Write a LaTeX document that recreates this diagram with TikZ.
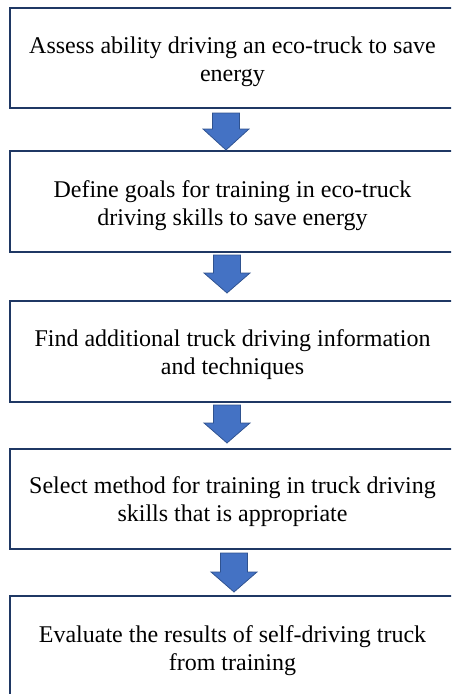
\documentclass[tikz,border=0pt]{standalone}
\usepackage{fontspec}
\setmainfont{Liberation Serif}
\definecolor{boxline}{HTML}{1F3864}
\definecolor{arrowfill}{HTML}{4472C4}
\definecolor{arrowline}{HTML}{2F528F}
\begin{document}
\begin{tikzpicture}[x=1pt,y=-1pt,
  stepbox/.style={draw=boxline, line width=2pt, minimum width=445pt, minimum height=100pt, inner sep=0pt},
  steptext/.style={inner sep=0pt, align=center, font=\fontsize{24pt}{28pt}\selectfont},
  blockarrow/.style={fill=arrowfill, draw=arrowline, line width=0.75pt, line join=miter}]
\useasboundingbox (0,0) rectangle (451,694);
\clip (0,0) rectangle (451,694);
\node[stepbox] (b1) at (232.5,58) {};
\node[stepbox, minimum height=101pt] (b2) at (232.5,201.5) {};
\node[stepbox, minimum height=101pt] (b3) at (232.5,351.5) {};
\node[stepbox] (b4) at (232.5,499) {};
\node[stepbox, minimum height=104pt] (b5) at (232.5,648) {};
\node[steptext] (l1) at ([yshift=-4pt]b1.center) {Assess ability driving an eco-truck to save\\energy};
\node[steptext] (l2) at ([yshift=-4pt]b2.center) {Define goals for training in eco-truck\\driving skills to save energy};
\node[steptext] (l3) at ([yshift=-3pt]b3.center) {Find additional truck driving information\\and techniques};
\node[steptext] (l4) at ([yshift=-3pt]b4.center) {Select method for training in truck driving\\skills that is appropriate};
\node[steptext] (l5) at ([yshift=-3pt]b5.center) {Evaluate the results of self-driving truck\\from training};
% block arrows (tip coordinates on the top edge of the next box)
\coordinate (t1) at (226,150);
\coordinate (t2) at (227,293);
\coordinate (t3) at (227,443);
\coordinate (t4) at (234,592);
\draw[blockarrow] (t1) -- ++(23,-21) -- ++(-9.5,0) -- ++(0,-16) -- ++(-27,0) -- ++(0,16) -- ++(-9.5,0) -- cycle;
\draw[blockarrow] (t2) -- ++(23,-20) -- ++(-9.5,0) -- ++(0,-18) -- ++(-27,0) -- ++(0,18) -- ++(-9.5,0) -- cycle;
\draw[blockarrow] (t3) -- ++(23,-20) -- ++(-9.5,0) -- ++(0,-18) -- ++(-27,0) -- ++(0,18) -- ++(-9.5,0) -- cycle;
\draw[blockarrow] (t4) -- ++(23,-20) -- ++(-9.5,0) -- ++(0,-19) -- ++(-27,0) -- ++(0,19) -- ++(-9.5,0) -- cycle;
\end{tikzpicture}
\end{document}
